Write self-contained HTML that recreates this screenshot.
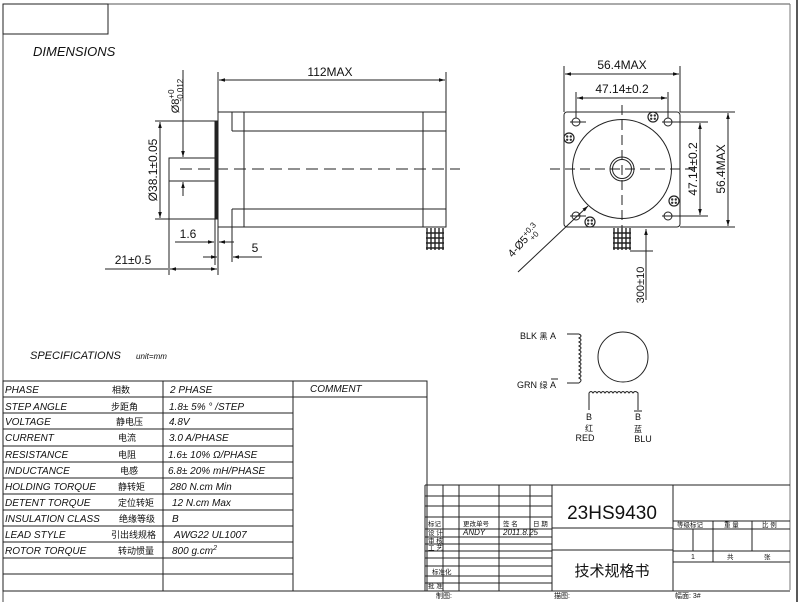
<!DOCTYPE html>
<html><head><meta charset="utf-8"><style>
html,body{margin:0;padding:0;background:#fff;}
svg{display:block;}
text{font-family:"Liberation Sans","Noto Sans CJK SC",sans-serif;fill:#111;}
.it{font-style:italic;}
.cj{font-family:"Noto Sans CJK SC","WenQuanYi Zen Hei",sans-serif;}
</style></head><body>
<svg width="800" height="602" viewBox="0 0 800 602" xmlns="http://www.w3.org/2000/svg">
<defs>
<marker id="ar" viewBox="0 0 10 10" refX="10" refY="5" markerWidth="6" markerHeight="6" orient="auto-start-reverse"><path d="M0,2 L10,5 L0,8 z" fill="#111"/></marker>
<g id="scr"><circle r="5" fill="#fff" stroke="#222" stroke-width="1.2"/><circle cx="-1.8" cy="-1.5" r="1.2" fill="#333"/><circle cx="1.8" cy="-1.5" r="1.2" fill="#333"/><circle cx="-1.8" cy="1.8" r="1.2" fill="#333"/><circle cx="1.8" cy="1.8" r="1.2" fill="#333"/></g>
</defs>
<g stroke="#222" fill="none" stroke-width="1">
<line x1="3" y1="4" x2="790" y2="4" stroke="#555"/>
<line x1="3" y1="4" x2="3" y2="602" stroke="#444"/>
<line x1="790" y1="4" x2="790" y2="590" stroke="#777"/>
<line x1="797" y1="0" x2="797" y2="602" stroke-width="1.5"/>
<rect x="3" y="4" width="105" height="30"/>

<rect x="218" y="112" width="228" height="115"/>
<rect x="215" y="121" width="3" height="98" fill="#222"/>
<rect x="169" y="158" width="46" height="23"/>
<line x1="232" y1="112" x2="232" y2="131"/>
<line x1="232" y1="131" x2="446" y2="131"/>
<line x1="232" y1="209" x2="446" y2="209"/>
<line x1="232" y1="209" x2="232" y2="227"/>
<line x1="244" y1="112" x2="244" y2="227"/>
<line x1="423" y1="112" x2="423" y2="227"/>
<line x1="180" y1="169" x2="460" y2="169" stroke-dasharray="12,6"/>
<g stroke="#222" stroke-width="1.4"><line x1="427" y1="228" x2="427" y2="250"/><line x1="431" y1="228" x2="431" y2="250"/><line x1="435" y1="228" x2="435" y2="250"/><line x1="439" y1="228" x2="439" y2="250"/><line x1="443" y1="228" x2="443" y2="250"/>
<line x1="426" y1="233" x2="444" y2="233"/><line x1="426" y1="238" x2="444" y2="238"/><line x1="426" y1="243" x2="444" y2="243"/><line x1="426" y1="248" x2="444" y2="248"/></g>
<line x1="218" y1="72" x2="218" y2="112"/>
<line x1="446" y1="72" x2="446" y2="112"/>
<line x1="219" y1="80" x2="445" y2="80" marker-start="url(#ar)" marker-end="url(#ar)"/>
<line x1="155" y1="121" x2="215" y2="121"/>
<line x1="155" y1="219" x2="215" y2="219"/>
<line x1="160" y1="122" x2="160" y2="218" marker-start="url(#ar)" marker-end="url(#ar)"/>
<line x1="183" y1="70" x2="183" y2="157" marker-end="url(#ar)"/>
<line x1="183" y1="196" x2="183" y2="182" marker-end="url(#ar)"/>
<line x1="169" y1="181" x2="169" y2="275"/>
<line x1="215" y1="219" x2="215" y2="265"/>
<line x1="218" y1="227" x2="218" y2="275"/>
<line x1="232" y1="227" x2="232" y2="262"/>
<line x1="175" y1="242" x2="214" y2="242" marker-end="url(#ar)"/>
<line x1="234" y1="242" x2="219" y2="242" marker-end="url(#ar)"/>
<line x1="203" y1="257" x2="217" y2="257" marker-end="url(#ar)"/>
<line x1="262" y1="257" x2="233" y2="257" marker-end="url(#ar)"/>
<line x1="105" y1="269" x2="168" y2="269"/>
<line x1="170" y1="269" x2="217" y2="269" marker-start="url(#ar)" marker-end="url(#ar)"/>

<rect x="564" y="112" width="116" height="115" rx="3"/>
<circle cx="622" cy="169" r="49.5"/>
<circle cx="622" cy="169" r="12"/>
<circle cx="622" cy="169" r="9.5"/>
<circle cx="576" cy="122" r="4"/><circle cx="668" cy="122" r="4"/>
<circle cx="576" cy="216" r="4"/><circle cx="668" cy="216" r="4"/>
<line x1="570" y1="122" x2="586" y2="122"/><line x1="662" y1="122" x2="708" y2="122"/>
<line x1="570" y1="216" x2="586" y2="216"/><line x1="662" y1="216" x2="708" y2="216"/>
<line x1="550" y1="169" x2="700" y2="169" stroke-dasharray="10,5"/>
<line x1="622" y1="105" x2="622" y2="235" stroke-dasharray="10,5"/>
<line x1="564" y1="66" x2="564" y2="112"/><line x1="680" y1="66" x2="680" y2="112"/>
<line x1="565" y1="74" x2="679" y2="74" marker-start="url(#ar)" marker-end="url(#ar)"/>
<line x1="576" y1="92" x2="576" y2="118"/><line x1="668" y1="92" x2="668" y2="118"/>
<line x1="577" y1="98" x2="667" y2="98" marker-start="url(#ar)" marker-end="url(#ar)"/>
<line x1="680" y1="112" x2="735" y2="112"/><line x1="680" y1="227" x2="735" y2="227"/>
<line x1="700" y1="123" x2="700" y2="215" marker-start="url(#ar)" marker-end="url(#ar)"/>
<line x1="728" y1="113" x2="728" y2="226" marker-start="url(#ar)" marker-end="url(#ar)"/>
<line x1="518" y1="272" x2="588" y2="206" marker-end="url(#ar)"/>
<g stroke="#222" stroke-width="1.4"><line x1="614" y1="228" x2="614" y2="250"/><line x1="618" y1="228" x2="618" y2="250"/><line x1="622" y1="228" x2="622" y2="250"/><line x1="626" y1="228" x2="626" y2="250"/><line x1="630" y1="228" x2="630" y2="250"/>
<line x1="613" y1="233" x2="631" y2="233"/><line x1="613" y1="238" x2="631" y2="238"/><line x1="613" y1="243" x2="631" y2="243"/><line x1="613" y1="248" x2="631" y2="248"/></g>
<line x1="630" y1="251" x2="653" y2="251"/>
<line x1="646" y1="300" x2="646" y2="229" marker-end="url(#ar)"/>

<line x1="567" y1="334" x2="579" y2="334"/><line x1="567" y1="383" x2="579" y2="383"/>
<path d="M579,334 q4,2 0,4 q4,2 0,4 q4,2 0,4 q4,2 0,4 q4,2 0,4 q4,2 0,4 q4,2 0,4 q4,2 0,4 q4,2 0,4 q4,2 0,4 q4,2 0,4 q4,2 0,5"/>
<circle cx="623" cy="357" r="25"/>
<path d="M589,410 V393 q2,-3 4,0 q2,-3 4,0 q2,-3 4,0 q2,-3 4,0 q2,-3 4,0 q2,-3 4,0 q2,-3 4,0 q2,-3 4,0 q2,-3 4,0 q2,-3 4,0 q2,-3 4,0 q2,-3 5,0 V410"/>

<rect x="3" y="381" width="424" height="210"/>
<line x1="163" y1="381" x2="163" y2="591"/>
<line x1="293" y1="381" x2="293" y2="591"/>
<line x1="293" y1="397" x2="427" y2="397"/>
<g>
<line x1="3" y1="397" x2="293" y2="397"/><line x1="3" y1="413" x2="293" y2="413"/><line x1="3" y1="429" x2="293" y2="429"/><line x1="3" y1="446" x2="293" y2="446"/><line x1="3" y1="462" x2="293" y2="462"/><line x1="3" y1="478" x2="293" y2="478"/><line x1="3" y1="494" x2="293" y2="494"/><line x1="3" y1="510" x2="293" y2="510"/><line x1="3" y1="526" x2="293" y2="526"/><line x1="3" y1="542" x2="293" y2="542"/><line x1="3" y1="558" x2="293" y2="558"/><line x1="3" y1="574" x2="293" y2="574"/>
</g>

<line x1="425" y1="485" x2="790" y2="485"/>
<line x1="425" y1="485" x2="425" y2="591"/>
<line x1="443" y1="485" x2="443" y2="591"/>
<line x1="459" y1="485" x2="459" y2="591"/>
<line x1="499" y1="485" x2="499" y2="591"/>
<line x1="530" y1="485" x2="530" y2="537"/>
<line x1="552" y1="485" x2="552" y2="591"/>
<line x1="673" y1="485" x2="673" y2="591"/>
<line x1="425" y1="496" x2="552" y2="496"/><line x1="425" y1="506" x2="552" y2="506"/><line x1="425" y1="517" x2="552" y2="517"/><line x1="425" y1="529" x2="552" y2="529"/><line x1="425" y1="537" x2="552" y2="537"/><line x1="425" y1="544" x2="552" y2="544"/><line x1="425" y1="551" x2="552" y2="551"/><line x1="425" y1="558" x2="552" y2="558"/><line x1="425" y1="566" x2="552" y2="566"/><line x1="425" y1="576" x2="552" y2="576"/><line x1="425" y1="583" x2="552" y2="583"/><line x1="425" y1="591" x2="790" y2="591"/>
<line x1="552" y1="528" x2="673" y2="528"/><line x1="552" y1="550" x2="673" y2="550"/>
<line x1="673" y1="521" x2="790" y2="521"/><line x1="673" y1="529" x2="790" y2="529"/><line x1="673" y1="551" x2="790" y2="551"/><line x1="673" y1="562" x2="790" y2="562"/>
<line x1="693" y1="529" x2="693" y2="551"/><line x1="713" y1="521" x2="713" y2="562"/><line x1="752" y1="521" x2="752" y2="551"/>
</g>
<use href="#scr" x="569" y="138"/><use href="#scr" x="653" y="117"/><use href="#scr" x="674" y="201"/><use href="#scr" x="590" y="222"/>

<text x="33" y="56" font-size="13" class="it">DIMENSIONS</text>
<text x="330" y="76" font-size="12" text-anchor="middle">112MAX</text>
<text transform="translate(157,170) rotate(-90)" font-size="12" text-anchor="middle">Ø38.1±0.05</text>
<text transform="translate(179,96) rotate(-90)" font-size="11" text-anchor="middle">Ø8<tspan font-size="8" dy="-5">+0</tspan><tspan font-size="8" dx="-12" dy="9">-0.012</tspan></text>
<text x="188" y="238" font-size="12" text-anchor="middle">1.6</text>
<text x="255" y="252" font-size="12" text-anchor="middle">5</text>
<text x="133" y="264" font-size="12" text-anchor="middle">21±0.5</text>
<text x="622" y="69" font-size="12" text-anchor="middle">56.4MAX</text>
<text x="622" y="93" font-size="12" text-anchor="middle">47.14±0.2</text>
<text transform="translate(697,169) rotate(-90)" font-size="12" text-anchor="middle">47.14±0.2</text>
<text transform="translate(725,169) rotate(-90)" font-size="12" text-anchor="middle">56.4MAX</text>
<text transform="translate(526,243) rotate(-48)" font-size="11" text-anchor="middle">4-Ø5<tspan font-size="8" dy="-4">+0.3</tspan><tspan font-size="8" dx="-14" dy="8">+0</tspan></text>
<text transform="translate(644,285) rotate(-90)" font-size="11" text-anchor="middle">300±10</text>

<text x="520" y="339" font-size="9">BLK <tspan class="cj" font-size="8">黑</tspan> A</text>
<text x="517" y="388" font-size="9">GRN <tspan class="cj" font-size="8">绿</tspan> A</text>
<line x1="551" y1="379" x2="558" y2="379" stroke="#222"/>
<text x="589" y="420" font-size="9" text-anchor="middle">B</text>
<text x="589" y="431" font-size="8" text-anchor="middle" class="cj">红</text>
<text x="585" y="441" font-size="9" text-anchor="middle">RED</text>
<text x="638" y="420" font-size="9" text-anchor="middle">B</text>
<line x1="634" y1="411" x2="642" y2="411" stroke="#222"/>
<text x="638" y="432" font-size="8" text-anchor="middle" class="cj">蓝</text>
<text x="643" y="442" font-size="9" text-anchor="middle">BLU</text>

<text x="30" y="359" font-size="11" class="it">SPECIFICATIONS</text>
<text x="136" y="359" font-size="8" class="it">unit=mm</text>

<g font-size="10" class="it">
<text x="5" y="393">PHASE</text><text x="5" y="410">STEP ANGLE</text><text x="5" y="425">VOLTAGE</text><text x="5" y="441">CURRENT</text><text x="5" y="458">RESISTANCE</text><text x="5" y="474">INDUCTANCE</text><text x="5" y="490">HOLDING TORQUE</text><text x="5" y="506">DETENT TORQUE</text><text x="5" y="522">INSULATION CLASS</text><text x="5" y="538">LEAD STYLE</text><text x="5" y="554">ROTOR TORQUE</text>
<text x="170" y="393">2  PHASE</text><text x="169" y="410">1.8± 5% ° /STEP</text><text x="169" y="425">4.8V</text><text x="169" y="441">3.0 A/PHASE</text><text x="168" y="458">1.6± 10%  Ω/PHASE</text><text x="168" y="474">6.8± 20% mH/PHASE</text><text x="170" y="490">280  N.cm Min</text><text x="172" y="506">12 N.cm Max</text><text x="172" y="522">B</text><text x="174" y="538">AWG22 UL1007</text><text x="172" y="554">800 g.cm<tspan font-size="7" dy="-4">2</tspan></text>
<text x="310" y="392">COMMENT</text>
</g>
<g font-size="9" class="cj" fill="#333">
<text x="112" y="393">相数</text><text x="111" y="410">步距角</text><text x="116" y="425">静电压</text><text x="118" y="441">电流</text><text x="118" y="458">电阻</text><text x="120" y="474">电感</text><text x="118" y="490">静转矩</text><text x="118" y="506">定位转矩</text><text x="119" y="522">绝缘等级</text><text x="111" y="538">引出线规格</text><text x="118" y="554">转动惯量</text>
</g>

<text x="612" y="519" font-size="19" text-anchor="middle" fill="#000">23HS9430</text>
<text x="612" y="576" font-size="15" text-anchor="middle" class="cj" fill="#333">技术规格书</text>
<g font-size="6.5" class="cj" fill="#333">
<text x="428" y="526">标记</text><text x="463" y="526">更改单号</text><text x="503" y="526">签 名</text><text x="533" y="526">日 期</text>
<text x="428" y="535">设    计</text><text x="428" y="543">审    核</text><text x="428" y="550">工    艺</text>
<text x="432" y="574">标准化</text><text x="428" y="588">批    准</text>
<text x="677" y="527">等级标记</text><text x="724" y="527">重  量</text><text x="762" y="527">比   例</text>
<text x="727" y="559">共</text><text x="764" y="559">张</text>
</g>
<text x="463" y="535" font-size="8" class="it">ANDY</text>
<text x="503" y="535" font-size="8" class="it">2011.8.25</text>
<text x="691" y="559" font-size="7">1</text>
<g font-size="7" class="cj" fill="#333">
<text x="436" y="598">制图:</text><text x="554" y="598">描图:</text><text x="675" y="598">幅面: 3#</text>
</g>
</svg>
</body></html>
